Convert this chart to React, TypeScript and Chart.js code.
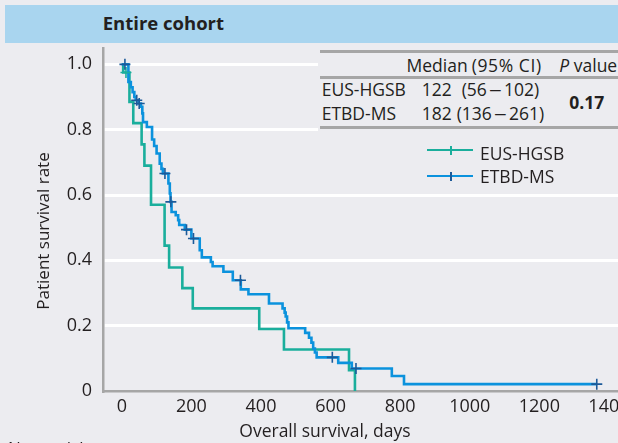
import React, { useEffect, useRef } from "react";
import { Chart, registerables } from "chart.js";

Chart.register(...registerables);

// ---- Data ----
// EUS-HGSB Kaplan–Meier steps: day at which survival drops to the given value
const hgsbDays = [0, 4, 22, 33, 57, 65, 84, 123, 136, 174, 204, 395, 466, 653, 670];
const hgsbSurv = [1, 0.975, 0.885, 0.82, 0.755, 0.69, 0.57, 0.445, 0.378, 0.315, 0.253, 0.19, 0.127, 0.064, 0];
const hgsbCensorDays = [12];
const hgsbCensorSurv = [0.975];

// ETBD-MS Kaplan–Meier steps
const etbdDays = [0, 19, 26, 31, 36, 40, 48, 55, 59, 61, 72, 87, 93, 100, 109, 114, 118, 134, 138, 140, 143, 155, 162, 165, 181, 200, 224, 230, 256, 261, 292, 319, 342, 364, 423, 462, 468, 471, 475, 479, 527, 538, 545, 550, 555, 560, 622, 661, 776, 811, 1365];
const etbdSurv = [1, 0.946, 0.93, 0.915, 0.9, 0.89, 0.88, 0.87, 0.85, 0.823, 0.808, 0.77, 0.75, 0.727, 0.696, 0.68, 0.666, 0.635, 0.605, 0.579, 0.548, 0.538, 0.523, 0.508, 0.494, 0.467, 0.431, 0.409, 0.395, 0.382, 0.365, 0.339, 0.311, 0.296, 0.268, 0.253, 0.24, 0.228, 0.21, 0.192, 0.178, 0.163, 0.148, 0.13, 0.118, 0.103, 0.086, 0.069, 0.046, 0.021, 0.021];
const etbdCensorDays = [9, 43, 50, 124, 141, 186, 206, 341, 605, 673, 1365];
const etbdCensorSurv = [1.0, 0.89, 0.88, 0.666, 0.579, 0.494, 0.467, 0.339, 0.103, 0.069, 0.021];

const seriesNames = ["EUS-HGSB", "ETBD-MS"];
const medianValues = ["122", "182"];
const ciLow = ["56", "136"];
const ciHigh = ["102", "261"];
const pValue = "0.17";
const panelTitle = "Entire cohort";
const xTitle = "Overall survival, days";
const yTitle = "Patient survival rate";

const TEAL = "#1aae9c";
const BLUE = "#0b92dd";
const BLUE_DARK = "#1c5a99";
const BG = "#ececf0";
const BAND = "#a9d5ef";
const RULE = "#a6a6a6";
const TEXT = "#231f20";
const FONT = "'Open Sans', 'Noto Sans', sans-serif";

const pts = (xs: number[], ys: number[]) => xs.map((x, i) => ({ x, y: ys[i] }));

function Txt(props: { left: number; cy: number; size?: number; bold?: boolean; spacing?: number; children: React.ReactNode }) {
  const size = props.size ?? 17.5;
  const lh = size * 1.2;
  return (
    <div
      style={{
        position: "absolute",
        left: props.left,
        top: props.cy - lh / 2 - 0.031 * size,
        fontSize: size,
        lineHeight: `${lh}px`,
        fontWeight: props.bold ? 700 : 400,
        letterSpacing: props.spacing ? `${props.spacing}px` : undefined,
        whiteSpace: "pre",
        color: TEXT,
      }}
    >
      {props.children}
    </div>
  );
}

const Dash = () => <span style={{ margin: "0 4.2px", display: "inline-block", transform: "scaleX(1.45)" }}>–</span>;

export default function App() {
  const canvasRef = useRef<HTMLCanvasElement | null>(null);

  useEffect(() => {
    document.body.style.margin = "0";
    const canvas = canvasRef.current;
    if (!canvas) return;
    const chart = new Chart(canvas, {
      type: "line",
      data: {
        datasets: [
          {
            label: "ETBD-MS censored",
            data: pts(etbdCensorDays, etbdCensorSurv),
            showLine: false,
            pointStyle: "cross",
            pointRadius: 5.5,
            pointBorderWidth: 1.6,
            pointBorderColor: BLUE_DARK,
            borderColor: BLUE_DARK,
          },
          {
            label: "EUS-HGSB censored",
            data: pts(hgsbCensorDays, hgsbCensorSurv),
            showLine: false,
            pointStyle: "cross",
            pointRadius: 5.5,
            pointBorderWidth: 1.6,
            pointBorderColor: TEAL,
            borderColor: TEAL,
          },
          {
            label: seriesNames[1],
            data: pts(etbdDays, etbdSurv),
            stepped: true,
            borderColor: BLUE,
            borderWidth: 2.6,
            pointRadius: 0,
            fill: false,
          },
          {
            label: seriesNames[0],
            data: pts(hgsbDays, hgsbSurv),
            stepped: true,
            borderColor: TEAL,
            borderWidth: 2.6,
            pointRadius: 0,
            fill: false,
          },
        ],
      },
      options: {
        responsive: false,
        animation: false,
        layout: { autoPadding: false, padding: { top: 48, left: 0, right: 0, bottom: 0 } },
        plugins: {
          legend: { display: false },
          tooltip: { enabled: false },
          title: { display: false },
        },
        scales: {
          x: {
            type: "linear",
            min: -54,
            max: 1426,
            grid: { display: false, drawTicks: false },
            border: { display: true, color: RULE, width: 2.5 },
            ticks: {
              stepSize: 200,
              includeBounds: false,
              autoSkip: false,
              maxRotation: 0,
              padding: 5,
              color: TEXT,
              font: { family: FONT, size: 18 },
              callback: (v: any) => String(v),
            },
            afterFit: (s: any) => {
              s.height = 52;
              s.paddingLeft = 0;
              s.paddingRight = 0;
            },
          },
          y: {
            type: "linear",
            min: 0,
            max: 1.05,
            grid: {
              drawTicks: false,
              lineWidth: 3,
              color: (ctx: any) => (ctx.tick && ctx.tick.value === 0 ? "rgba(0,0,0,0)" : "#ffffff"),
            },
            border: { display: true, color: RULE, width: 2.5 },
            ticks: {
              stepSize: 0.2,
              includeBounds: false,
              padding: 11,
              color: TEXT,
              font: { family: FONT, size: 18 },
              callback: (v: any) => (Math.abs(v) < 1e-9 ? "0" : Number(v).toFixed(1)),
            },
            afterFit: (s: any) => {
              s.width = 103;
              s.paddingTop = 0;
              s.paddingBottom = 0;
            },
          },
        },
      },
    });
    return () => chart.destroy();
  }, []);

  return (
    <div
      style={{
        position: "fixed",
        left: 0,
        top: 0,
        width: 618,
        height: 443,
        background: BG,
        overflow: "hidden",
        fontFamily: FONT,
        color: TEXT,
      }}
    >
      <canvas ref={canvasRef} width={618} height={443} style={{ position: "absolute", left: 0, top: 0, width: 618, height: 443 }} />

      {/* header band */}
      <div style={{ position: "absolute", left: 5, top: 5, width: 613, height: 38, background: BAND }} />
      <Txt left={102.7} cy={23.9} size={18.5} bold>
        {panelTitle}
      </Txt>

      {/* summary table */}
      <div style={{ position: "absolute", left: 318, top: 46, width: 300, height: 86, background: BG }} />
      <div style={{ position: "absolute", left: 320, top: 50.2, width: 298, height: 3, background: RULE }} />
      <div style={{ position: "absolute", left: 320, top: 75.8, width: 298, height: 3, background: RULE }} />
      <div style={{ position: "absolute", left: 320, top: 125.8, width: 298, height: 3, background: RULE }} />
      <Txt left={406.5} cy={66}>Median</Txt>
      <Txt left={471.7} cy={66} spacing={0.6}>(95% CI)</Txt>
      <Txt left={559.3} cy={66}>
        <span style={{ fontStyle: "italic" }}>P</span> value
      </Txt>
      <Txt left={321.7} cy={90.3}>{seriesNames[0]}</Txt>
      <Txt left={421.7} cy={90.3}>{medianValues[0]}</Txt>
      <Txt left={461.7} cy={90.3}>
        ({ciLow[0]}<Dash />{ciHigh[0]})
      </Txt>
      <Txt left={321.7} cy={113.7}>{seriesNames[1]}</Txt>
      <Txt left={421.7} cy={113.7}>{medianValues[1]}</Txt>
      <Txt left={456.7} cy={113.7}>
        ({ciLow[1]}<Dash />{ciHigh[1]})
      </Txt>
      <Txt left={569.3} cy={103.3} bold>{pValue}</Txt>

      {/* legend */}
      <div style={{ position: "absolute", left: 426.7, top: 148.8, width: 46.6, height: 2.5, background: TEAL }} />
      <div style={{ position: "absolute", left: 450, top: 146, width: 1.5, height: 8.5, background: TEAL }} />
      <Txt left={480} cy={153.7}>{seriesNames[0]}</Txt>
      <div style={{ position: "absolute", left: 426.7, top: 174.5, width: 46.6, height: 2.5, background: BLUE }} />
      <div style={{ position: "absolute", left: 450, top: 172, width: 1.5, height: 8.5, background: BLUE_DARK }} />
      <Txt left={480} cy={177.5}>{seriesNames[1]}</Txt>

      {/* axis titles */}
      <Txt left={239.3} cy={431.5}>{xTitle}</Txt>
      <div
        style={{
          position: "absolute",
          left: 43.3 - 110,
          top: 231 - 11,
          width: 220,
          height: 22,
          lineHeight: "22px",
          textAlign: "center",
          fontSize: 17,
          whiteSpace: "nowrap",
          transform: "rotate(-90deg)",
          color: TEXT,
        }}
      >
        {yTitle}
      </div>

      {/* cut-off caption at bottom */}
      <Txt left={8} cy={448.5} size={17}>No. at risk</Txt>
    </div>
  );
}
